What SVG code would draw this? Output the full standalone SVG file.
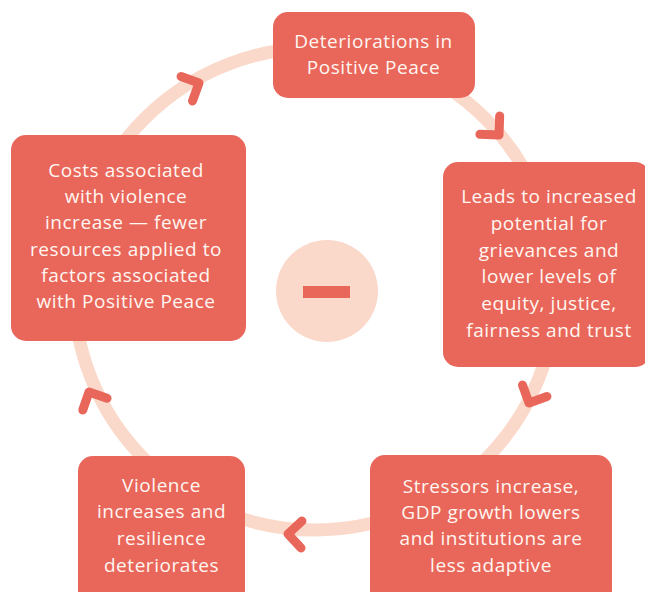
<svg xmlns="http://www.w3.org/2000/svg" xmlns:xlink="http://www.w3.org/1999/xlink" width="645" height="592" viewBox="0 0 645 592">
<style>
.box{fill:#E9665A;}
.lbl{font-family:"Open Sans","Liberation Sans",sans-serif;font-size:19px;letter-spacing:0.55px;fill:#FFF6F1;text-anchor:middle;}
.ring{fill:none;stroke:#FBD9CA;stroke-width:13;}
.chev{fill:none;stroke:#E9665A;stroke-width:9;stroke-linecap:round;stroke-linejoin:round;}
</style>
<defs>
<path id="chev" d="M-13.5,-13.5 L0,0 L-13.5,13.5"/>
</defs>
<rect width="645" height="592" fill="#FFFFFF"/>
<g id="connectors">
<circle class="ring" cx="315" cy="289" r="241"/>
<use xlink:href="#chev" class="chev" transform="translate(199,83) rotate(-25)"/>
<use xlink:href="#chev" class="chev" transform="translate(499,135) rotate(47)"/>
<use xlink:href="#chev" class="chev" transform="translate(529,403) rotate(115)"/>
<use xlink:href="#chev" class="chev" transform="translate(288,534) rotate(182)"/>
<use xlink:href="#chev" class="chev" transform="translate(89,392) rotate(-116)"/>
</g>
<g id="center">
<circle cx="327" cy="291" r="51" fill="#FBD9CA"/>
<rect x="303" y="286" width="47" height="12" fill="#E9665A"/>
</g>
<g id="node-top">
<rect class="box" x="273" y="12" width="202" height="86" rx="15"/>
<text class="lbl" x="373.5" y="48">Deteriorations in</text>
<text class="lbl" x="373.5" y="74">Positive Peace</text>
</g>
<g id="node-right">
<rect class="box" x="443" y="162" width="207" height="205" rx="15"/>
<text class="lbl" x="549" y="203">Leads to increased</text>
<text class="lbl" x="549" y="230">potential for</text>
<text class="lbl" x="549" y="257">grievances and</text>
<text class="lbl" x="549" y="283">lower levels of</text>
<text class="lbl" x="549" y="310">equity, justice,</text>
<text class="lbl" x="549" y="337">fairness and trust</text>
</g>
<g id="node-bottom-right">
<rect class="box" x="370" y="455" width="242" height="150" rx="15"/>
<text class="lbl" x="491" y="493">Stressors increase,</text>
<text class="lbl" x="491" y="519">GDP growth lowers</text>
<text class="lbl" x="491" y="545">and institutions are</text>
<text class="lbl" x="491" y="572">less adaptive</text>
</g>
<g id="node-bottom-left">
<rect class="box" x="78" y="456" width="167" height="150" rx="15"/>
<text class="lbl" x="161.5" y="492">Violence</text>
<text class="lbl" x="161.5" y="518">increases and</text>
<text class="lbl" x="161.5" y="545">resilience</text>
<text class="lbl" x="161.5" y="572">deteriorates</text>
</g>
<g id="node-left">
<rect class="box" x="11" y="135" width="235" height="206" rx="15"/>
<text class="lbl" x="126" y="177">Costs associated</text>
<text class="lbl" x="126" y="203">with violence</text>
<text class="lbl" x="126" y="229">increase — fewer</text>
<text class="lbl" x="126" y="256">resources applied to</text>
<text class="lbl" x="126" y="282">factors associated</text>
<text class="lbl" x="126" y="308">with Positive Peace</text>
</g>
</svg>
